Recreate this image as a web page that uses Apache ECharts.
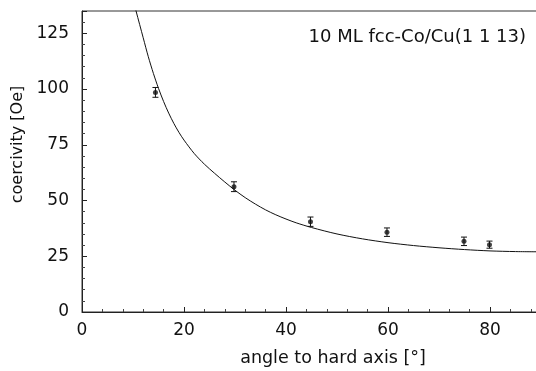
<!DOCTYPE html>
<html>
<head>
<meta charset="utf-8">
<script src="https://cdn.jsdelivr.net/npm/echarts@6/dist/echarts.min.js"></script>
<style>
  html, body { margin: 0; padding: 0; background: #fff; }
  #chart { width: 536px; height: 371px; }
</style>
</head>
<body>
<div id="chart"></div>
<script>
// measured points (angle, coercivity, error)
const angles = [14.4, 29.8, 44.8, 59.8, 74.9, 79.9];
const coercivity = [98.5, 56.2, 40.5, 35.8, 31.7, 30.2];
const errors = [2.2, 2.2, 2.1, 1.9, 1.9, 1.6];

// fit curve
const fitX = [10, 10.6, 12, 13, 14, 15, 16, 17, 18, 19, 20, 22, 24, 26, 28, 30, 32, 34, 36, 38, 40, 42, 45, 50, 55, 60, 65, 70, 75, 80, 85, 90];
const fitY = [140.5, 135, 123, 114.5, 107, 100.3, 94.4, 89.2, 84.6, 80.6, 77.1, 71.1, 66.3, 62.2, 58.3, 54.6, 51.3, 48.4, 45.8, 43.6, 41.7, 40.0, 37.9, 35.0, 32.8, 31.1, 29.8, 28.8, 28.0, 27.4, 27.1, 27.0];

const xTicks = [0, 20, 40, 60, 80];
const yTicks = [0, 25, 50, 75, 100, 125];

const font = 'DejaVu Sans';
const ink = '#111';

const chart = echarts.init(document.getElementById('chart'), null, { renderer: 'canvas' });

const option = {
  animation: false,
  backgroundColor: '#fff',
  title: {
    text: '10 ML fcc-Co/Cu(1 1 13)',
    right: 10,
    top: 28,
    padding: 0,
    textStyle: { fontFamily: font, fontSize: 18, fontWeight: 'normal', color: ink }
  },
  grid: {
    left: 82,
    right: -5,
    top: 11,
    bottom: 59,
    containLabel: false,
    outerBoundsMode: 'none',
    show: true,
    borderColor: '#333',
    borderWidth: 1
  },
  xAxis: {
    type: 'value',
    min: 0,
    max: 90,
    interval: 20,
    name: 'angle to hard axis [°]',
    nameLocation: 'middle',
    nameGap: 37,
    nameTextStyle: { fontFamily: font, fontSize: 17.5, color: ink, padding: [0, 0, 0, 43] },
    axisLine: { lineStyle: { color: '#222', width: 1 } },
    axisTick: { inside: true, length: 5, lineStyle: { color: '#222' } },
    minorTick: { show: true, splitNumber: 5, length: 3, lineStyle: { color: '#444' } },
    splitLine: { show: false },
    axisLabel: {
      margin: 10,
      fontFamily: font, fontSize: 17, color: ink,
      formatter: v => xTicks.includes(v) ? String(v) : ''
    }
  },
  yAxis: {
    type: 'value',
    min: 0,
    max: 135,
    interval: 25,
    name: 'coercivity [Oe]',
    nameLocation: 'middle',
    nameGap: 55,
    nameRotate: 90,
    nameTextStyle: { fontFamily: font, fontSize: 16, color: ink, padding: [0, 0, 0, 34] },
    axisLine: { show: true, lineStyle: { color: '#222', width: 1 } },
    axisTick: { show: true, inside: true, length: 5, lineStyle: { color: '#222' } },
    minorTick: { show: true, splitNumber: 5, length: 3, lineStyle: { color: '#444' } },
    splitLine: { show: false },
    axisLabel: {
      margin: 13,
      fontFamily: font, fontSize: 17, color: ink,
      formatter: v => yTicks.includes(v) ? String(v) : ''
    }
  },
  series: [
    {
      name: 'fit',
      type: 'line',
      data: fitX.map((x, i) => [x, fitY[i]]),
      smooth: 0.3,
      showSymbol: false,
      clip: true,
      lineStyle: { color: ink, width: 1 }
    },
    {
      name: 'error',
      type: 'custom',
      data: angles.map((x, i) => [x, coercivity[i], errors[i]]),
      renderItem: function (params, api) {
        const x = api.value(0), y = api.value(1), e = api.value(2);
        const c = api.coord([x, y]);
        const hi = api.coord([x, y + e]);
        const lo = api.coord([x, y - e]);
        const cap = 3;
        const st = { stroke: ink, lineWidth: 1 };
        return {
          type: 'group',
          children: [
            { type: 'line', shape: { x1: c[0], y1: hi[1], x2: c[0], y2: lo[1] }, style: st },
            { type: 'line', shape: { x1: c[0] - cap, y1: hi[1], x2: c[0] + cap, y2: hi[1] }, style: st },
            { type: 'line', shape: { x1: c[0] - cap, y1: lo[1], x2: c[0] + cap, y2: lo[1] }, style: st }
          ]
        };
      },
      z: 3
    },
    {
      name: 'data',
      type: 'scatter',
      data: angles.map((x, i) => [x, coercivity[i]]),
      symbol: 'circle',
      symbolSize: 5,
      itemStyle: { color: ink },
      z: 4
    }
  ]
};

chart.setOption(option);
</script>
</body>
</html>
